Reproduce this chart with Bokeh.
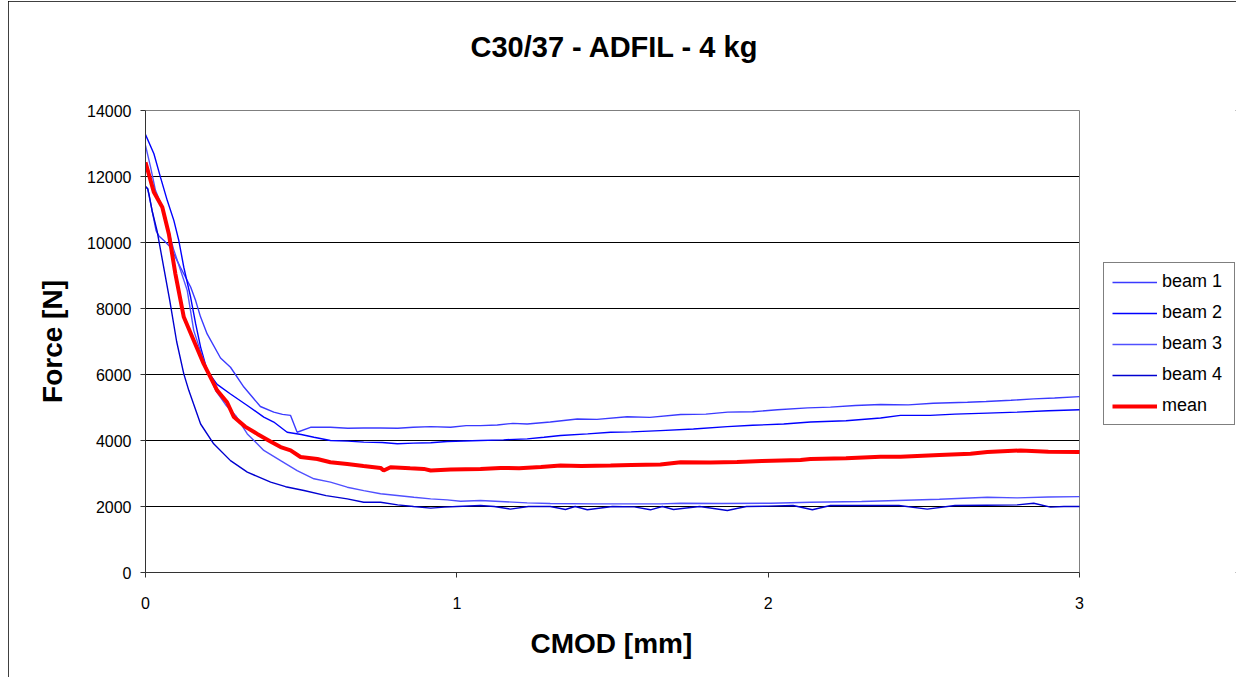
from bokeh.plotting import figure
from bokeh.models import Range1d, FixedTicker, Legend, LegendItem, Title
from bokeh.embed import file_html
from bokeh.resources import INLINE

TITLE = "C30/37 - ADFIL - 4 kg"
X_LABEL = "CMOD [mm]"
Y_LABEL = "Force [N]"
X_TICKS = [0, 1, 2, 3]
Y_TICKS = [0, 2000, 4000, 6000, 8000, 10000, 12000, 14000]
SERIES_NAMES = ["beam 1", "beam 2", "beam 3", "beam 4", "mean"]

beam1_x = [0, 0.007, 0.034, 0.043, 0.059, 0.080, 0.112, 0.145, 0.161, 0.177, 0.198, 0.241, 0.273, 0.316,
           0.369, 0.412, 0.440, 0.466, 0.487, 0.530, 0.594, 0.650, 0.700, 0.755, 0.810, 0.860, 0.916, 0.980,
           1.030, 1.076, 1.130, 1.180, 1.226, 1.300, 1.387, 1.450, 1.547, 1.620, 1.719, 1.800, 1.870, 1.950,
           2.030, 2.127, 2.200, 2.280, 2.361, 2.450, 2.530, 2.640, 2.700, 2.780, 2.853, 2.920, 3.0]
beam1_y = [11700, 11630, 10360, 10200, 10060, 9860, 9250, 8650, 8240, 7740, 7230, 6500, 6220, 5620,
           5030, 4860, 4790, 4760, 4250, 4400, 4400, 4370, 4380, 4380, 4370, 4400, 4420, 4400,
           4450, 4450, 4470, 4520, 4500, 4560, 4650, 4640, 4720, 4700, 4790, 4800, 4860, 4870,
           4930, 4990, 5010, 5060, 5090, 5080, 5130, 5160, 5180, 5220, 5260, 5290, 5330]

beam2_x = [0, 0.027, 0.048, 0.070, 0.091, 0.107, 0.123, 0.145, 0.161, 0.177, 0.198, 0.230, 0.273, 0.327,
           0.380, 0.412, 0.455, 0.500, 0.541, 0.594, 0.650, 0.701, 0.760, 0.809, 0.860, 0.916, 0.969, 1.076,
           1.150, 1.226, 1.280, 1.333, 1.420, 1.494, 1.560, 1.654, 1.760, 1.869, 1.950, 2.050, 2.136, 2.250,
           2.361, 2.425, 2.520, 2.600, 2.704, 2.800, 2.900, 3.0]
beam2_y = [13270, 12690, 11980, 11270, 10670, 10060, 9250, 8340, 7540, 6830, 6120, 5700, 5410, 5060,
           4710, 4560, 4250, 4180, 4100, 4000, 3980, 3950, 3940, 3900, 3920, 3930, 3970, 4000,
           4020, 4050, 4100, 4150, 4200, 4250, 4260, 4300, 4350, 4420, 4460, 4500, 4560, 4600,
           4680, 4760, 4760, 4800, 4830, 4860, 4900, 4930]

beam3_x = [0, 0.016, 0.032, 0.054, 0.090, 0.134, 0.155, 0.187, 0.225, 0.260, 0.290, 0.327, 0.380, 0.434,
           0.487, 0.541, 0.594, 0.648, 0.701, 0.755, 0.862, 0.916, 0.969, 1.012, 1.076, 1.226, 1.300, 1.440,
           1.550, 1.654, 1.719, 1.850, 2.008, 2.136, 2.300, 2.415, 2.550, 2.704, 2.800, 2.900, 3.0]
beam3_y = [12940, 12300, 11580, 11070, 9800, 8550, 7330, 6420, 5520, 5050, 4750, 4200, 3700, 3390,
           3090, 2840, 2740, 2585, 2480, 2385, 2280, 2230, 2200, 2160, 2180, 2110, 2090, 2080,
           2080, 2080, 2100, 2090, 2100, 2130, 2150, 2180, 2220, 2280, 2260, 2290, 2300]

beam4_x = [0, 0.007, 0.011, 0.021, 0.037, 0.078, 0.100, 0.123, 0.139, 0.177, 0.219, 0.273, 0.327, 0.402,
           0.450, 0.509, 0.580, 0.648, 0.701, 0.755, 0.810, 0.861, 0.916, 0.960, 1.000, 1.076, 1.120, 1.172,
           1.230, 1.300, 1.349, 1.380, 1.419, 1.500, 1.570, 1.622, 1.660, 1.696, 1.780, 1.869, 1.930, 2.000,
           2.080, 2.142, 2.200, 2.300, 2.420, 2.511, 2.600, 2.700, 2.800, 2.853, 2.907, 2.950, 3.0]
beam4_y = [11700, 11630, 11470, 10970, 10360, 8240, 7000, 6020, 5520, 4500, 3900, 3390, 3040, 2740,
           2600, 2485, 2330, 2230, 2130, 2130, 2050, 2000, 1950, 1980, 2000, 2030, 2000, 1920,
           2000, 2000, 1910, 2000, 1900, 2000, 1990, 1900, 2000, 1910, 2000, 1880, 2000, 2010,
           2030, 1900, 2030, 2030, 2030, 1920, 2030, 2040, 2050, 2100, 1980, 2000, 2000]

mean_x = [0, 0.027, 0.054, 0.075, 0.096, 0.123, 0.155, 0.187, 0.230, 0.262, 0.284, 0.320, 0.359, 0.400,
          0.434, 0.466, 0.498, 0.552, 0.594, 0.648, 0.700, 0.755, 0.765, 0.787, 0.850, 0.894, 0.916, 0.980,
          1.076, 1.140, 1.200, 1.270, 1.333, 1.400, 1.494, 1.560, 1.654, 1.719, 1.815, 1.900, 1.980, 2.104,
          2.136, 2.250, 2.361, 2.425, 2.550, 2.650, 2.704, 2.811, 2.900, 3.0]
mean_y = [12430, 11520, 11070, 10260, 9050, 7740, 7030, 6320, 5520, 5160, 4710, 4420, 4200, 3980,
          3800, 3700, 3500, 3440, 3340, 3290, 3230, 3170, 3090, 3190, 3160, 3140, 3090, 3120,
          3140, 3170, 3160, 3200, 3240, 3230, 3240, 3260, 3270, 3340, 3330, 3350, 3380, 3410,
          3440, 3460, 3510, 3510, 3560, 3600, 3650, 3700, 3660, 3650]

FONT = "Liberation Sans"

# geometry: plot area spans 934 px for the x range 0..3; the canvas frame is extended to the right
# edge of the chart so that the legend can sit there
FRAME_LEFT = 137
PLOT_W = 934
FIG_W = 1228
x_end = X_TICKS[-1] * (FIG_W - FRAME_LEFT) / PLOT_W

p = figure(width=FIG_W, height=676, output_backend="svg", toolbar_location=None,
           x_range=Range1d(X_TICKS[0], x_end), y_range=Range1d(Y_TICKS[0], Y_TICKS[-1]),
           min_border_left=FRAME_LEFT, min_border_right=0, min_border_top=109, min_border_bottom=105)
p.styles = {"margin-left": "8px", "margin-top": "1px", "outline": "1px solid black", "outline-offset": "-1px"}
p.background_fill_color = "white"
p.border_fill_color = "white"
p.outline_line_color = None

# spacer between the plot area and the chart title
p.add_layout(Title(text=" ", text_font_size="1px", standoff=40), "above")

p.title.text = TITLE
p.title.align = "left"
p.title.offset = 325
p.title.text_font = FONT
p.title.text_font_size = "29px"
p.title.text_font_style = "bold"
p.title.text_color = "black"
p.title.standoff = 10

p.xaxis.ticker = FixedTicker(ticks=X_TICKS)
p.yaxis.ticker = FixedTicker(ticks=Y_TICKS)
p.xaxis.bounds = (X_TICKS[0], X_TICKS[-1])
p.xgrid.visible = False
p.ygrid.visible = False

# plot-area gridlines and border (limited to the x range 0..3)
p.multi_line(xs=[[X_TICKS[0], X_TICKS[-1]] for _ in Y_TICKS[1:]], ys=[[t, t] for t in Y_TICKS[1:]],
             line_color="black", line_width=1)
p.quad(left=[X_TICKS[0]], right=[X_TICKS[-1]], bottom=[Y_TICKS[0]], top=[Y_TICKS[-1]],
       fill_color=None, line_color="#808080", line_width=1)

for ax in (p.xaxis, p.yaxis):
    ax.axis_line_color = "#333333"
    ax.axis_line_width = 1
    ax.major_tick_line_color = "#333333"
    ax.major_tick_out = 5
    ax.major_tick_in = 0
    ax.minor_tick_out = 0
    ax.minor_tick_in = 0
    ax.major_label_text_font = FONT
    ax.major_label_text_font_size = "16px"
    ax.major_label_text_color = "black"
    ax.axis_label_text_font = FONT
    ax.axis_label_text_font_size = "28px"
    ax.axis_label_text_font_style = "bold"
    ax.axis_label_text_color = "black"
p.yaxis.axis_label = Y_LABEL
p.xaxis.major_label_standoff = 19
p.yaxis.major_label_standoff = 9
p.yaxis.axis_label_standoff = 16

# x-axis title, positioned under the 0..3 plot area
xlabel = Title(text=X_LABEL, align="left", offset=385, standoff=28, text_font=FONT,
               text_font_size="28px", text_font_style="bold", text_color="black")
p.add_layout(xlabel, "below")

colors = ["#3A3AFF", "#0000FF", "#5050FF", "#0000D0"]
xs = [beam1_x, beam2_x, beam3_x, beam4_x]
ys = [beam1_y, beam2_y, beam3_y, beam4_y]
renderers = []
for x, y, c in zip(xs, ys, colors):
    renderers.append(p.line(x, y, line_color=c, line_width=1.4))
renderers.append(p.line(mean_x, mean_y, line_color="#FF0000", line_width=4))

legend = Legend(items=[LegendItem(label=n, renderers=[r]) for n, r in zip(SERIES_NAMES, renderers)],
                location=(PLOT_W + 24, 147))
legend.label_text_font = FONT
legend.label_text_font_size = "18px"
legend.label_text_color = "black"
legend.glyph_width = 45
legend.glyph_height = 20
legend.label_height = 20
legend.label_width = 64
legend.spacing = 10
legend.padding = 8
legend.margin = 0
legend.label_standoff = 5
legend.border_line_color = "black"
legend.border_line_width = 1
legend.background_fill_color = "white"
legend.background_fill_alpha = 1
p.add_layout(legend)

open("out.html", "w").write(file_html(p, INLINE))
